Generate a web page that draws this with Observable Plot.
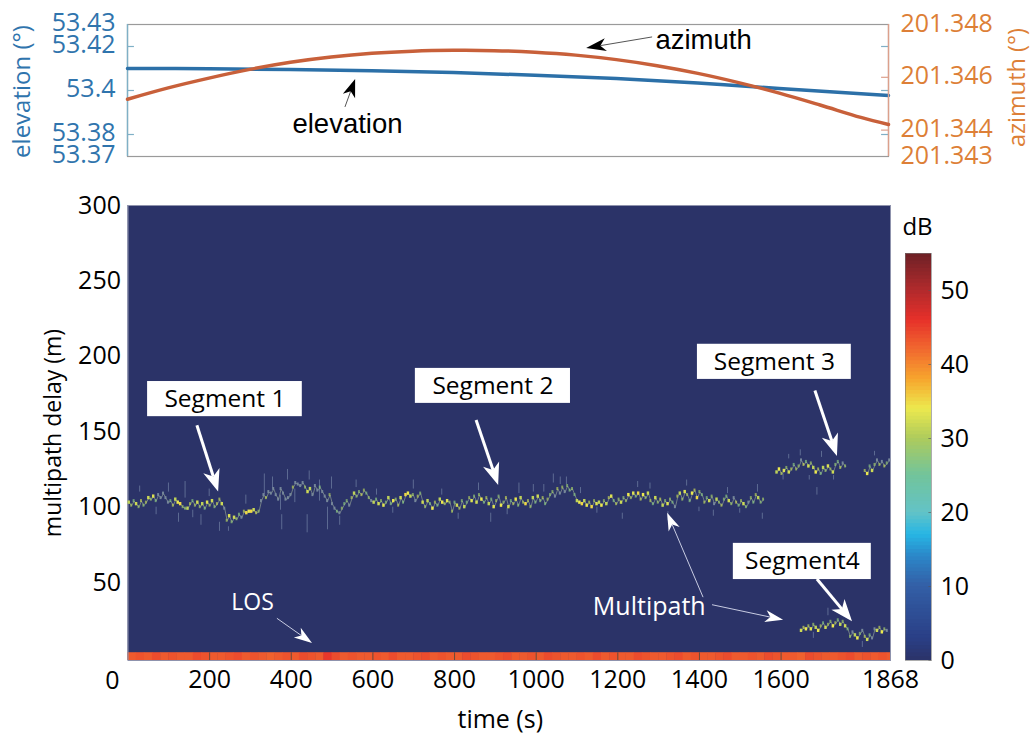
<!DOCTYPE html>
<html><head><meta charset="utf-8">
<script src="https://cdn.jsdelivr.net/npm/d3@7"></script>
<script src="https://cdn.jsdelivr.net/npm/@observablehq/plot@0.6"></script>
<style>
html,body{margin:0;padding:0;background:#fff}
#page{position:relative;width:1031px;height:733px;overflow:hidden}
#page svg{position:absolute;left:0;background:transparent;overflow:visible}
</style></head><body><div id="page"></div>
<script>
const timeMax = 1868;
const fontFamily = "'Open Sans', sans-serif";
const elevationBlue = "#2f74ad", azimuthOrange = "#dd7f37";

// Upper panel
const elevationTime = [0,200,400,600,800,1000,1200,1400,1600,1868];
const elevationDeg = [53.41,53.4099,53.40955,53.40895,53.40815,53.40695,53.40545,53.40345,53.40091,53.39773];
const azimuthTime = [0,100,200,300,400,500,600,700,800,900,1000,1100,1200,1300,1400,1500,1600,1700,1800,1868];
const azimuthDeg = [201.34517,201.3456,201.34597,201.3463,201.34657,201.34677,201.34691,201.34699,201.34702,201.34701,201.34695,201.34684,201.34667,201.34644,201.34615,201.3458,201.3454,201.34495,201.34448,201.34421];
const elevationLabels = [53.43,53.42,53.4,53.38,53.37];
const elevationTicks = [53.42,53.4,53.38];
const azimuthLabels = [201.348,201.346,201.344,201.343];
const azimuthTicks = [201.346,201.344];

// Lower panel axes
const xLabels = [200,400,600,800,1000,1200,1400,1600,1868];
const xMarks = [200,400,600,800,1000,1200,1400,1600];
const yLabels = [50,100,150,200,250,300];

// dB colour scale
const dbStops = [0,3,10,14,17,20,25,30,34,38,42,46,50,55];
const dbColors = ["#2b3368","#2a3f86","#335fa6","#2b86c8","#27b6e4","#63c3c6","#72c49b","#aecb5c","#ece94e","#f7a52d","#f1682f","#e6302a","#b12a2c","#6d2026"];
const dbLabels = [0,10,20,30,40,50];
const colorbarLevels = d3.range(0,55,0.5);

// LOS band: one value per 20 s
const losPower = [43,43.5,43,44,43,43.5,43,43,44,43.5,43,43,43.5,44,43,43.5,43,42.5,43,43.5,43,44,43.5,43,45.5,44,43,43.5,43,43,43.5,43,44,43,43,43.5,44,43,43.5,43,43,44,43.5,43,43,43.5,44,43,43,43.5,43,44,43.5,43,43,43.5,43,44,43,43.5,43,43,44,43.5,43,43,43.5,44,43,43.5,43,43,43.5,44,43,43,43.5,43,44,43.5,43,43,42.5,44,43.5,43,43,43.5,44,43,43.5,43,43.5,43];

// Segments 1 and 2: one value per 6 s from t = 3 s
const bandDelay = [
103,101,104,102,100,104,101,103, 106,105,107,104,108,106, 109,106,103, 104,101,105,103,102,100, 99,99,102,104,101,103, 100,102,99,103,101,104,100,102, 105,102,99, 91,94,90,93,92,95,93, 97,96,97,97,98,96,97,
104,108,106,110,109,112,108,105, 112,109,105,106,108,113,116,115,114, 116,113,110,112,108,114,111,113,110,107, 104,108,102,99,97,
96,99,102,104,101, 106,109,107,110,108,111,109,106,104, 103,105,102,104,101,103,106,102,104,105,101,106,103, 108,109,107,108,104,107,109, 103,100,104,102,99,103,101,105,103,102,104,103, 97,103,101,99,104,100,103, 106,104,107,103,108,105,103,106, 102,105,100,104,107,101,103,106,100,104,102,105,101,106,103,
102,104,100,106,103,107,104,106,102,105,108, 110,107,112,109,113,110,114,111,112, 108,104,103, 102,104,101,103,100,104,102,103,101,104,102, 106,107,104,102,105,103,106,104, 108,106,109,107,109,105,108,106,109, 104,102,106,103,105,101,104,102,105,103,100, 107,109,105,110,108,104,109,111,106,110,108, 103,106,104,107,102,105,103,101,105,107,104,102,106,103,101,104,102,100,103,106,103,108,106,103,105];
const bandPower = [
30,27,24,31,26,29,25,28, 31,26,32,24,23,19, 20,18,17, 24,28,30,33,34,26, 25,30,28,24,27,31, 26,30,24,32,27,31,25,29, 28,31,20, 27,32,25,31,26,24,20, 28,34,33,34,31,29,26,
16,18,28,16,20,15,17,14, 14,18,15,16,21,28,20,15,14, 20,26,31,30,22,18,21,24,18,16, 18,27,19,21,24,
20,26,24,25,22, 28,30,26,25,29,27,24,26,22, 30,24,31,26,32,25,30,24,33,26,28,31,24, 34,33,30,26,22,28,25, 31,26,30,24,33,28,24,30,33,27,32,26, 27,24,31,28,25,30,24, 27,32,25,31,26,33,24,28, 30,24,32,27,25,33,26,29,31,24,28,33,25,30,27,
34,28,26,30,24,31,25,28,24,27,25, 26,22,28,20,27,22,25,24,26, 24,30,33, 34,30,33,28,34,27,32,30,33,26,30, 29,32,24,28,26,31,25,27, 33,27,32,25,34,28,33,26,31, 28,24,31,26,29,30,25,32,26,24,23, 28,30,26,32,27,24,33,29,34,26,24, 27,24,31,26,22,30,26,28,25,24,31,26,22,29,24,27,31,25,23,26,24,28,30,25,26];
// Segment 3, two runs, from t = 1590 s and t = 1806 s
const seg3aDelay = [123,125,122,124,126,123,125,128,125,127,131,128,130,127,129,126,123,125,122,126,124,127,125,123,128,130,126,129,127];
const seg3aPower = [30,33,28,32,26,31,28,24,27,26,23,29,24,31,26,30,33,28,24,30,26,32,27,31,25,24,28,22,26];
const seg3bDelay = [124,122,127,124,128,131,128,130,127,129,131];
const seg3bPower = [28,33,24,31,26,22,27,23,28,25,22];
// Segment 4, from t = 1650 s
const seg4Delay = [18,20,19,21,19,22,20,18,21,23,20,22,24,21,23,25,22,24,21,19,14,17,15,13,16,18,14,12,15,13,19,18,20,17,19,18];
const seg4Power = [31,29,33,28,32,26,30,33,28,24,31,27,26,33,28,24,30,26,31,24,26,22,30,33,25,21,28,31,24,20,18,31,28,33,26,22];
// Faint streaks
const echoTime = [125,141,180,225,247,335,355,375,378,392,410,440,445,470,490,500,520,890,959,994,1043,1060,1075,1212,1280,1324,1435,1543,1555,1606,1648,1689,1716,
  30,70,100,160,200,290,560,610,650,700,770,810,860,930,1020,1110,1150,1250,1370,1400,1470,1500,1620,1670,1700,1730,1830,1680,1800];
const echoLow  = [90,106,88,84,84,108,112,98,85,118,103,83,118,104,85,112,88,90,109,110,116,115,115,92,112,91,94,110,92,118,134,108,28,
  110,95,110,93,107,102,113,108,96,112,108,92,111,95,110,109,96,113,114,97,109,96,132,118,133,118,134,13,7];
const echoHigh = [96,117,95,90,87,122,120,108,95,125,112,95,124,118,100,120,94,96,116,115,122,120,120,96,116,97,98,115,96,122,138,113,33,
  114,100,116,98,112,108,118,112,100,118,112,96,116,99,115,113,100,117,118,100,113,99,135,121,137,121,137,17,11];

// Annotation text
const boxLabels = ["Segment 1","Segment 2","Segment 3","Segment4"];
const boxT1 = [48,704,1395,1483], boxT2 = [427,1084,1772,1821];
const boxD1 = [160,168.8,184.7,52], boxD2 = [183.3,192,208,76];
const whiteArrows = [[170,154,222,110],[854,157.5,908,114.4],[1684,177,1738,133.6],[1689,52,1775,24]];
const thinArrows = [[1410,40,1322,96],[1432,35,1606,25],[366,26,452,9.6]];

function run(start, delays, powers){
  return delays.map((d,i)=>({t:start+i*6, d, db:powers[i]}));
}
const band = run(3,bandDelay,bandPower);
const seg3a = run(1590,seg3aDelay,seg3aPower);
const seg3b = run(1806,seg3bDelay,seg3bPower);
const seg4 = run(1650,seg4Delay,seg4Power);
const multipath = [...band,...seg3a,...seg3b,...seg4];
const echoes = echoTime.map((t,i)=>({t,lo:echoLow[i],hi:echoHigh[i]}));
const los = losPower.map((db,i)=>({t:i*20,db}));
const boxes = boxLabels.map((label,i)=>({label,t1:boxT1[i],t2:boxT2[i],d1:boxD1[i],d2:boxD2[i]}));

function arrowMark(list,{fill,shaft,shaftColor,len,wide}){
  return (index,{x,y})=>{
    const g = d3.create("svg:g");
    for(const [a,b,c,e] of list){
      const x0=x(a),y0=y(b),x1=x(c),y1=y(e);
      const L=Math.hypot(x1-x0,y1-y0),ux=(x1-x0)/L,uy=(y1-y0)/L,nx=-uy,ny=ux;
      const bx=x1-ux*len,by=y1-uy*len,mx=x1-ux*len*.72,my=y1-uy*len*.72;
      g.append("line").attr("x1",x0).attr("y1",y0).attr("x2",mx).attr("y2",my)
       .attr("stroke",shaftColor).attr("stroke-width",shaft);
      g.append("polygon").attr("fill",fill).attr("points",
        [[x1,y1],[bx+nx*wide/2,by+ny*wide/2],[mx,my],[bx-nx*wide/2,by-ny*wide/2]].join(" "));
    }
    return g.node();
  };
}
const colorOpt = {type:"linear",domain:dbStops,range:dbColors,clamp:true};
const page = document.getElementById("page");
function add(svg,top){svg.style.top=top+"px";page.appendChild(svg);}
const base = {width:1031,style:{fontFamily,background:"transparent",overflow:"visible"}};
const topPanel = {...base,height:180,marginLeft:127,marginRight:143,marginTop:24,marginBottom:24};
const mapPanel = {...base,height:553,marginLeft:127.5,marginRight:141,marginTop:25,marginBottom:73};
const mapScales = {x:{domain:[0,timeMax],axis:null},y:{domain:[-1.66,300],axis:null},color:colorOpt};

// Elevation layer
add(Plot.plot({...topPanel,
  x:{domain:[0,timeMax],axis:null},
  y:{domain:[53.37,53.43],axis:null},
  marks:[
    Plot.frame({stroke:"#9a9a9a",strokeWidth:1.2}),
    Plot.ruleX([0],{stroke:"#7fb0c6",strokeWidth:1.4}),
    Plot.ruleY(elevationTicks,{x1:0,x2:17,stroke:"#7fb0c6",strokeWidth:1.2}),
    Plot.ruleY(elevationTicks,{x1:timeMax-17,x2:timeMax,stroke:"#7fb0c6",strokeWidth:1.2}),
    Plot.axisY(elevationLabels,{anchor:"left",tickSize:0,tickPadding:12,dy:-2,fontSize:25,fill:elevationBlue,label:null,tickFormat:d=>String(d)}),
    Plot.text(["elevation (°)"],{frameAnchor:"left",textAnchor:"middle",dx:-105,dy:1,rotate:-90,fontSize:24,fill:elevationBlue,text:d=>d}),
    Plot.line(elevationTime,{x:d=>d,y:(d,i)=>elevationDeg[i],stroke:"#2c70a8",strokeWidth:3.5,curve:"catmull-rom"}),
    Plot.text(["elevation"],{x:()=>540,y:()=>53.3845,fontSize:27.5,fontFamily:"'Liberation Sans',sans-serif",fill:"#000",text:d=>d}),
    arrowMark([[535,53.3923,560,53.405]],{fill:"#000",shaft:1,shaftColor:"#555",len:18,wide:13})
  ]}),0);

// Azimuth layer
add(Plot.plot({...topPanel,
  x:{domain:[0,timeMax],axis:null},
  y:{domain:[201.343,201.348],axis:null},
  marks:[
    Plot.ruleX([timeMax],{stroke:"#dca08c",strokeWidth:1.4}),
    Plot.ruleY(azimuthTicks,{x1:timeMax-17,x2:timeMax,stroke:"#dca08c",strokeWidth:1.2}),
    Plot.axisY(azimuthLabels,{anchor:"right",tickSize:0,tickPadding:12,dy:-1,fontSize:25,fill:azimuthOrange,label:null,tickFormat:d=>d.toFixed(3)}),
    Plot.text(["azimuth (°)"],{frameAnchor:"right",textAnchor:"middle",dx:129,dy:-3,rotate:-90,fontSize:23.5,fill:azimuthOrange,text:d=>d}),
    Plot.line(azimuthTime,{x:d=>d,y:(d,i)=>azimuthDeg[i],stroke:"#c8603a",strokeWidth:3.5,curve:"catmull-rom"}),
    Plot.text(["azimuth"],{x:()=>1414,y:()=>201.34739,fontSize:27.5,fontFamily:"'Liberation Sans',sans-serif",fill:"#000",text:d=>d}),
    arrowMark([[1289,201.34751,1127,201.34709]],{fill:"#000",shaft:1,shaftColor:"#555",len:20,wide:13})
  ]}),0);

// Delay map: background, LOS band and axes
add(Plot.plot({...mapPanel,...mapScales,
  marks:[
    Plot.rect([0],{x1:()=>0,x2:()=>timeMax,y1:()=>-1.66,y2:()=>300,fill:d=>d}),
    Plot.rect(los,{x1:"t",x2:d=>Math.min(d.t+21,timeMax),y1:()=>-1.66,y2:()=>3.5,fill:"db"}),
    Plot.ruleX(xMarks,{y1:-1.66,y2:3.5,stroke:"#6b4a3a",strokeWidth:1}),
    Plot.axisX(xLabels,{anchor:"bottom",tickSize:0,tickPadding:10,fontSize:25,fill:"#000",label:null,tickFormat:d=>String(d)}),
    Plot.text([0],{frameAnchor:"bottom-left",textAnchor:"middle",lineAnchor:"middle",dx:-15.5,dy:20,fontSize:25,fill:"#000",text:d=>String(d)}),
    Plot.text(["time (s)"],{frameAnchor:"bottom",lineAnchor:"middle",dx:-9,dy:59,fontSize:25,fill:"#000",text:d=>d}),
    Plot.axisY(yLabels,{anchor:"left",tickSize:0,tickPadding:7,fontSize:25,fill:"#000",label:null}),
    Plot.text(["multipath delay (m)"],{frameAnchor:"left",textAnchor:"middle",dx:-74.5,dy:0,rotate:-90,fontSize:23,fill:"#000",text:d=>d}),
    Plot.frame({stroke:"#8f93ad",strokeWidth:1})
  ]}),180);

// Delay map: multipath cells, slightly soft as in the scanned original
add(Plot.plot({...mapPanel,...mapScales,
  style:{...base.style,filter:"blur(0.6px)"},
  marks:[
    Plot.rect(echoes,{x1:d=>d.t-0.9,x2:d=>d.t+0.9,y1:"lo",y2:"hi",fill:"#6f7fa2"}),
    Plot.line(band,{x:"t",y:"d",stroke:"#87968f",strokeWidth:0.9,strokeOpacity:.85}),
    Plot.line(seg3a,{x:"t",y:"d",stroke:"#87968f",strokeWidth:0.9,strokeOpacity:.85}),
    Plot.line(seg3b,{x:"t",y:"d",stroke:"#87968f",strokeWidth:0.9,strokeOpacity:.85}),
    Plot.line(seg4,{x:"t",y:"d",stroke:"#87968f",strokeWidth:0.9,strokeOpacity:.85}),
    Plot.rect(multipath.filter(d=>d.db<24),{x1:d=>d.t-2.4,x2:d=>d.t+2.4,y1:d=>d.d-1,y2:d=>d.d+1,fill:"#76879a"}),
    Plot.rect(multipath.filter(d=>d.db>=24&&d.db<30),{x1:d=>d.t-2.4,x2:d=>d.t+2.4,y1:d=>d.d-1,y2:d=>d.d+1,fill:d=>d.db+3,fillOpacity:.7}),
    Plot.rect(multipath.filter(d=>d.db>=30),{x1:d=>d.t-3,x2:d=>d.t+3,y1:d=>d.d-1.1,y2:d=>d.d+1.1,fill:d=>d.db+1})
  ]}),180);

// Delay map: annotations
add(Plot.plot({...mapPanel,...mapScales,
  marks:[
    Plot.rect(boxes,{x1:"t1",x2:"t2",y1:"d1",y2:"d2",fill:"#fff"}),
    Plot.text(boxes,{x:d=>(d.t1+d.t2)/2,y:d=>(d.d1+d.d2)/2,text:"label",fontSize:24.5,fill:"#000"}),
    arrowMark(whiteArrows,{fill:"#fff",shaft:3,shaftColor:"#fff",len:22,wide:17}),
    arrowMark(thinArrows,{fill:"#fff",shaft:1,shaftColor:"#c8cce2",len:18,wide:12}),
    Plot.text(["LOS"],{x:()=>305,y:()=>37,fontSize:23,fill:"#fff",text:d=>d}),
    Plot.text(["Multipath"],{x:()=>1277,y:()=>34,fontSize:25,fill:"#fff",text:d=>d})
  ]}),180);

// Colour bar
add(Plot.plot({...base,height:553,marginLeft:905,marginRight:100,marginTop:73,marginBottom:73,
  x:{domain:[0,1],axis:null},
  y:{domain:[0,55],axis:null},
  color:colorOpt,
  marks:[
    Plot.rect(colorbarLevels,{x1:()=>0,x2:()=>1,y1:d=>d,y2:d=>Math.min(d+0.7,55),fill:d=>d+0.25}),
    Plot.ruleY(dbLabels,{x1:0.9,x2:1,stroke:"#555",strokeOpacity:.6}),
    Plot.axisY(dbLabels,{anchor:"right",tickSize:0,tickPadding:9,fontSize:25,fill:"#000",label:null,textAnchor:"start"}),
    Plot.text(["dB"],{frameAnchor:"top",dy:-36,dx:-1,fontSize:24,fill:"#000",text:d=>d}),
    Plot.frame({stroke:"#777",strokeOpacity:.6})
  ]}),180);
</script></body></html>
